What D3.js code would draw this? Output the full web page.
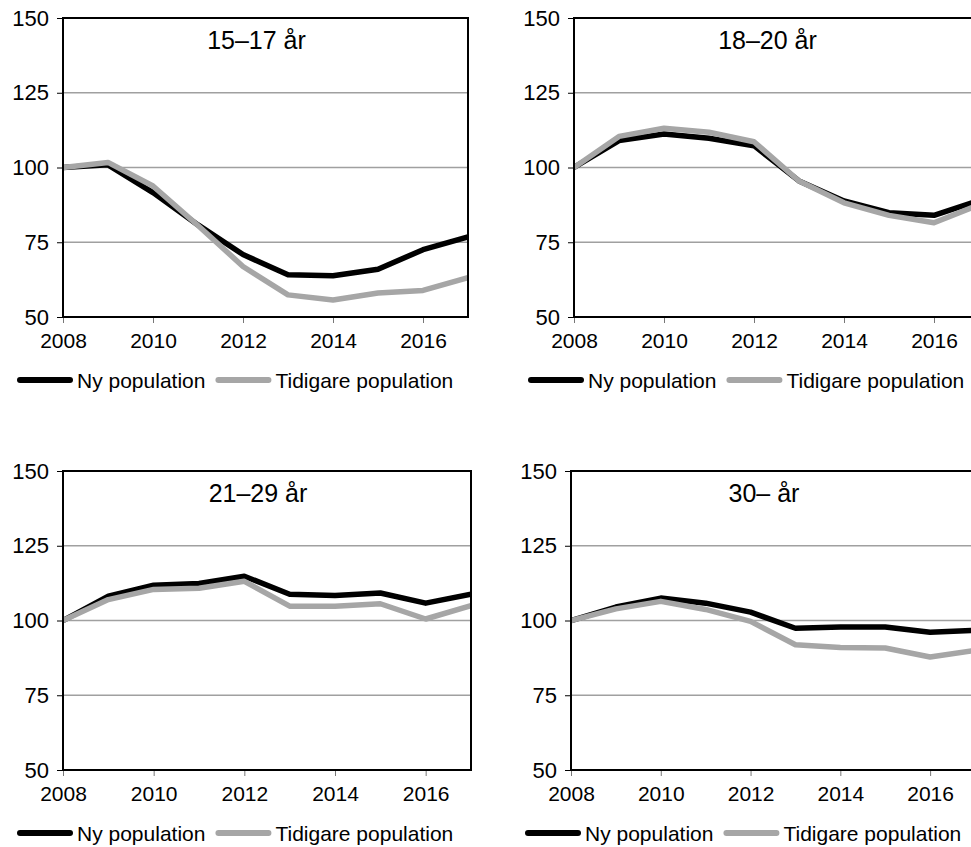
<!DOCTYPE html>
<html>
<head>
<meta charset="utf-8">
<script src="https://cdn.jsdelivr.net/npm/d3@7"></script>
<style>
  html, body { margin: 0; padding: 0; background: #fff; overflow: hidden; }
  svg { display: block; font-family: "Liberation Sans", Arial, sans-serif; }
</style>
</head>
<body>
<svg id="chart" width="971" height="847"></svg>
<script>
// Data (index, 2008 = 100)
const years = [2008, 2009, 2010, 2011, 2012, 2013, 2014, 2015, 2016, 2017];
const yTicks = [50, 75, 100, 125, 150];
const xTicks = [2008, 2010, 2012, 2014, 2016];
const seriesNames = ['Ny population', 'Tidigare population'];
const panelTitles = ['15–17 år', '18–20 år', '21–29 år', '30– år'];

const ny1517  = [100, 100.9, 91.6, 80.8, 70.9, 64.1, 63.8, 66.0, 72.5, 76.8];
const tid1517 = [100, 101.7, 93.8, 80.6, 66.9, 57.4, 55.7, 58.0, 58.9, 63.2];
const ny1820  = [100, 109.0, 111.2, 109.8, 107.3, 95.5, 88.8, 84.9, 84.0, 89.0];
const tid1820 = [100, 110.4, 113.1, 111.8, 108.6, 95.5, 88.2, 84.0, 81.5, 87.5];
const ny2129  = [100, 108.1, 111.8, 112.4, 114.8, 108.8, 108.4, 109.2, 105.8, 108.8];
const tid2129 = [100, 107.0, 110.4, 110.8, 113.1, 104.8, 104.8, 105.6, 100.5, 105.0];
const ny30    = [100, 104.5, 107.5, 105.8, 102.8, 97.4, 97.8, 97.8, 96.1, 96.7];
const tid30   = [100, 103.9, 106.4, 103.7, 99.7, 91.9, 91.0, 90.8, 87.8, 90.0];

const panelData = [
  [ny1517, tid1517],
  [ny1820, tid1820],
  [ny2129, tid2129],
  [ny30, tid30],
];

// Layout (plot rectangles)
const PANELS = [
  { x0: 63,  x1: 468, y0: 18,  y1: 317 },
  { x0: 574, x1: 979, y0: 18,  y1: 317 },
  { x0: 63,  x1: 471, y0: 471, y1: 770 },
  { x0: 571, x1: 975, y0: 471, y1: 770 },
];
const COLORS = ['#000000', '#a6a6a6'];
const LINE_W = 5.5;
const GRID = '#a0a0a0';
const FONT = '"Liberation Sans", Arial, sans-serif';

const svg = d3.select('#chart');

PANELS.forEach((p, i) => {
  const g = svg.append('g');
  const x = d3.scaleLinear().domain([2008, 2017]).range([p.x0, p.x1]);
  const y = d3.scaleLinear().domain([50, 150]).range([p.y1, p.y0]);

  // gridlines
  g.selectAll('line.grid').data([75, 100, 125]).enter().append('line')
    .attr('x1', p.x0).attr('x2', p.x1)
    .attr('y1', d => y(d)).attr('y2', d => y(d))
    .attr('stroke', GRID).attr('stroke-width', 1.5);

  // y axis ticks + labels
  const yAxis = d3.axisLeft(y).tickValues(yTicks).tickSize(6).tickPadding(8);
  const ya = g.append('g').attr('transform', `translate(${p.x0},0)`).call(yAxis);
  ya.select('.domain').remove();
  ya.selectAll('line').attr('stroke', '#000').attr('stroke-width', 1);
  ya.selectAll('text').attr('font-size', 22).attr('fill', '#000').attr('font-family', FONT);

  // x axis ticks + labels
  const xAxis = d3.axisBottom(x).tickValues(xTicks).tickSize(6).tickPadding(10).tickFormat(d3.format('d'));
  const xa = g.append('g').attr('transform', `translate(0,${p.y1})`).call(xAxis);
  xa.select('.domain').remove();
  xa.selectAll('line').attr('stroke', '#777').attr('stroke-width', 1);
  xa.selectAll('text').attr('font-size', 21).attr('fill', '#000').attr('font-family', FONT);

  // series lines, clipped to plot
  const clipId = 'clip' + i;
  svg.append('clipPath').attr('id', clipId).append('rect')
    .attr('x', p.x0).attr('y', p.y0).attr('width', p.x1 - p.x0).attr('height', p.y1 - p.y0);
  const line = d3.line().x((d, j) => x(years[j])).y(d => y(d));
  const lg = g.append('g').attr('clip-path', `url(#${clipId})`);
  panelData[i].forEach((vals, s) => {
    lg.append('path').datum(vals)
      .attr('d', line)
      .attr('fill', 'none')
      .attr('stroke', COLORS[s])
      .attr('stroke-width', LINE_W)
      .attr('stroke-linejoin', 'round');
  });

  // plot border
  g.append('rect')
    .attr('x', p.x0).attr('y', p.y0)
    .attr('width', p.x1 - p.x0).attr('height', p.y1 - p.y0)
    .attr('fill', 'none').attr('stroke', '#000').attr('stroke-width', 2);

  // title
  g.append('text')
    .attr('x', (p.x0 + p.x1) / 2 - 9).attr('y', p.y0 + 31)
    .attr('text-anchor', 'middle').attr('font-size', 25).attr('fill', '#000')
    .text(panelTitles[i]);

  // legend
  const ly = p.y1 + 63;
  let lx = p.x0 - 45;
  seriesNames.forEach((name, s) => {
    g.append('line')
      .attr('x1', lx + 2).attr('x2', lx + 52)
      .attr('y1', ly).attr('y2', ly)
      .attr('stroke', COLORS[s]).attr('stroke-width', 6)
      .attr('stroke-linecap', 'round');
    const t = g.append('text')
      .attr('x', lx + 59).attr('y', ly + 7.5)
      .attr('font-size', 21).attr('fill', '#000')
      .text(name);
    lx = lx + 59 + t.node().getComputedTextLength() + 11;
  });
});
</script>
</body>
</html>
